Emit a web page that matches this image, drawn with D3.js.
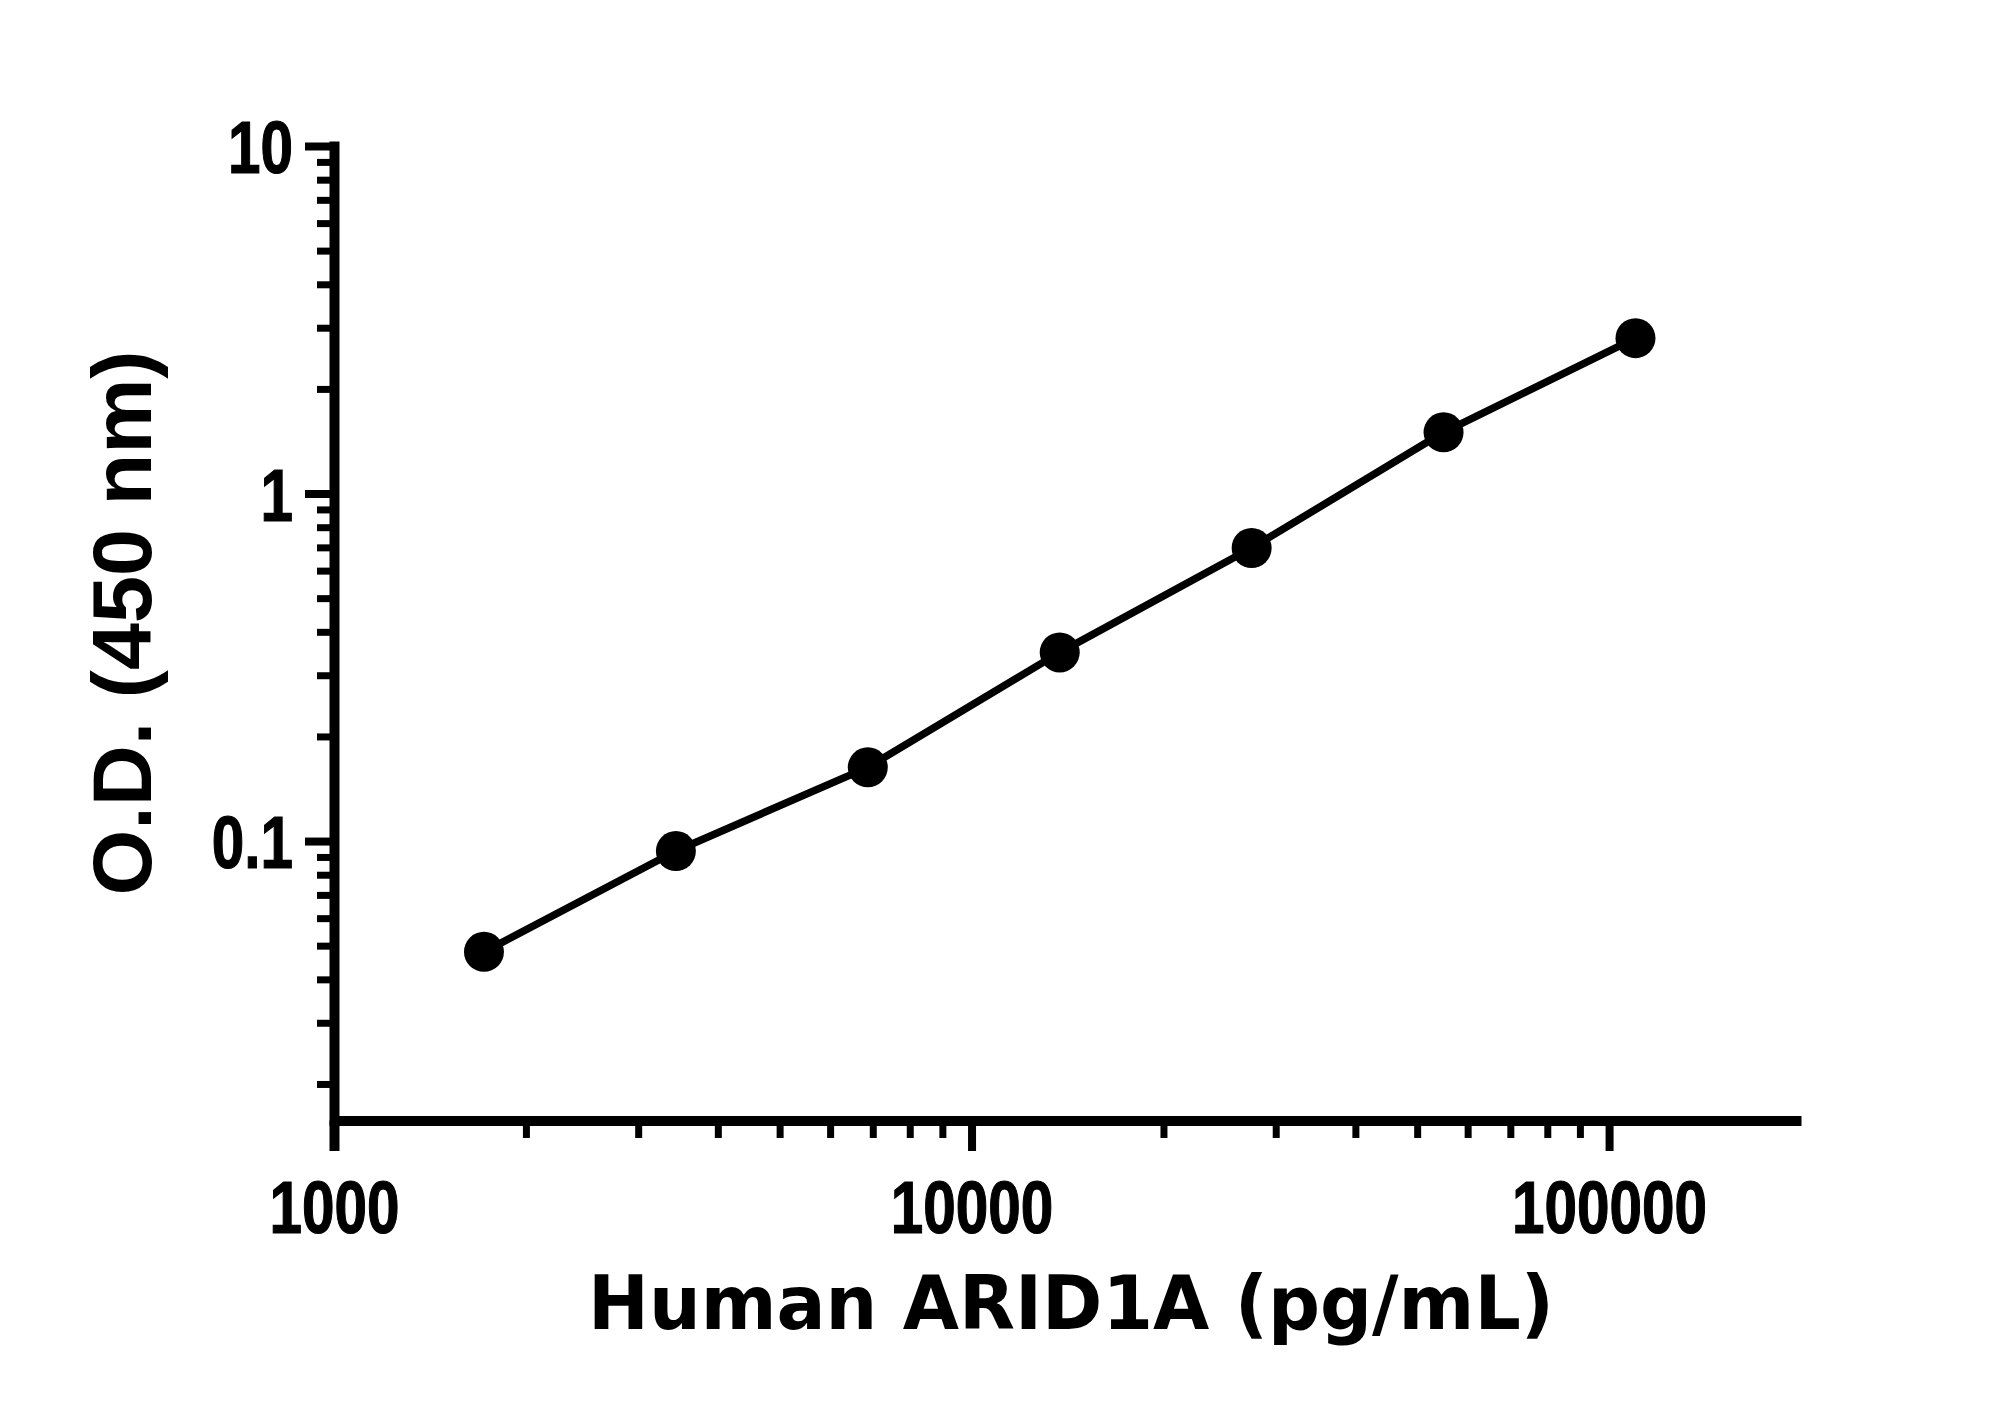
<!DOCTYPE html>
<html>
<head>
<meta charset="utf-8">
<script src="https://cdn.jsdelivr.net/npm/d3@7/dist/d3.min.js"></script>
<style>
  html, body { margin: 0; padding: 0; background: #fff; }
  svg { display: block; }
</style>
</head>
<body>
<script>
// ---- data ----
const concentrations = [1718.75, 3437.5, 6875, 13750, 27500, 55000, 110000];
const odValues = [0.048, 0.0936, 0.163, 0.349, 0.697, 1.50, 2.80];

const xMajorTicks = [1000, 10000, 100000];
const xTickLabels = ["1000", "10000", "100000"];
const xMinorTicks = [2000, 3000, 4000, 5000, 6000, 7000, 8000, 9000,
                     20000, 30000, 40000, 50000, 60000, 70000, 80000, 90000];
const yMajorTicks = [0.1, 1, 10];
const yTickLabels = ["0.1", "1", "10"];
const yMinorTicks = [0.02, 0.03, 0.04, 0.05, 0.06, 0.07, 0.08, 0.09,
                     0.2, 0.3, 0.4, 0.5, 0.6, 0.7, 0.8, 0.9,
                     2, 3, 4, 5, 6, 7, 8, 9];
const xTitle = "Human ARID1A (pg/mL)";
const yTitle = "O.D. (450 nm)";

// ---- layout ----
const W = 2000, H = 1414;
const svg = d3.select("body").append("svg").attr("width", W).attr("height", H);
svg.append("rect").attr("width", W).attr("height", H).attr("fill", "#fff");

const x = d3.scaleLog().domain([1000, 200000]).range([334, 1801]);
const y = d3.scaleLog().domain([0.0157, 10]).range([1120.5, 146]);

const tickFont = "'Liberation Sans', Arial, sans-serif";
const squeeze = 0.79;

// y minor ticks
svg.append("g")
  .attr("transform", `translate(${x(1000)},0)`)
  .call(d3.axisLeft(y).tickValues(yMinorTicks).tickSize(17).tickSizeOuter(0).tickFormat(""))
  .call(g => g.select(".domain").remove())
  .call(g => g.selectAll(".tick line").attr("stroke", "#000").attr("stroke-width", 7));

// y major axis
svg.append("g")
  .attr("transform", `translate(${x(1000)},0)`)
  .call(d3.axisLeft(y).tickValues(yMajorTicks).tickSize(29).tickSizeOuter(0)
          .tickFormat((d, i) => yTickLabels[i]))
  .call(g => g.select(".domain").attr("stroke", "#000").attr("stroke-width", 10)
                .attr("stroke-linecap", "square"))
  .call(g => g.selectAll(".tick line").attr("stroke", "#000").attr("stroke-width", 8))
  .call(g => g.selectAll(".tick text")
      .attr("x", -41 / squeeze).attr("dy", "0.36em")
      .attr("transform", `scale(${squeeze},1)`)
      .attr("fill", "#000").attr("font-family", tickFont)
      .attr("font-weight", "bold").attr("font-size", 74)
      .attr("stroke", "#000").attr("stroke-width", 1.2)
      .attr("text-anchor", "end"));

// x minor ticks
svg.append("g")
  .attr("transform", `translate(0,${y.range()[0]})`)
  .call(d3.axisBottom(x).tickValues(xMinorTicks).tickSize(17.5).tickSizeOuter(0).tickFormat(""))
  .call(g => g.select(".domain").remove())
  .call(g => g.selectAll(".tick line").attr("stroke", "#000").attr("stroke-width", 7));

// x major axis
svg.append("g")
  .attr("transform", `translate(0,${y.range()[0]})`)
  .call(d3.axisBottom(x).tickValues(xMajorTicks).tickSize(30.5).tickSizeOuter(0)
          .tickFormat((d, i) => xTickLabels[i]))
  .call(g => g.select(".domain").attr("stroke", "#000").attr("stroke-width", 10))
  .call(g => g.selectAll(".tick line").attr("stroke", "#000")
                .attr("stroke-width", d => d === 1000 ? 10 : 8))
  .call(g => g.selectAll(".tick text")
      .attr("y", 112.5).attr("dy", 0)
      .attr("transform", `scale(${squeeze},1)`)
      .attr("fill", "#000").attr("font-family", tickFont)
      .attr("font-weight", "bold").attr("font-size", 74)
      .attr("stroke", "#000").attr("stroke-width", 1.2)
      .attr("text-anchor", "middle"));

// ---- data line and points ----
const pts = concentrations.map((c, i) => ({ c, v: odValues[i] }));
const line = d3.line().x(d => x(d.c)).y(d => y(d.v)).curve(d3.curveLinear);

svg.append("path")
  .datum(pts)
  .attr("d", line)
  .attr("fill", "none")
  .attr("stroke", "#000")
  .attr("stroke-width", 7.5)
  .attr("stroke-linejoin", "round");

svg.append("g").selectAll("circle")
  .data(pts)
  .join("circle")
  .attr("cx", d => x(d.c))
  .attr("cy", d => y(d.v))
  .attr("r", 20)
  .attr("fill", "#000");

// ---- titles ----
svg.append("text")
  .attr("x", 1071).attr("y", 1329)
  .attr("text-anchor", "middle")
  .attr("font-family", "'DejaVu Sans', 'Liberation Sans', sans-serif")
  .attr("font-weight", "bold")
  .attr("font-size", 75)
  .attr("textLength", 966)
  .attr("lengthAdjust", "spacingAndGlyphs")
  .attr("fill", "#000")
  .text(xTitle);

svg.append("text")
  .attr("transform", "translate(151,623) rotate(-90)")
  .attr("text-anchor", "middle")
  .attr("font-family", "'Liberation Sans', Arial, sans-serif")
  .attr("font-weight", "bold")
  .attr("font-size", 83)
  .attr("textLength", 545)
  .attr("lengthAdjust", "spacingAndGlyphs")
  .attr("fill", "#000")
  .text(yTitle);
</script>
</body>
</html>
